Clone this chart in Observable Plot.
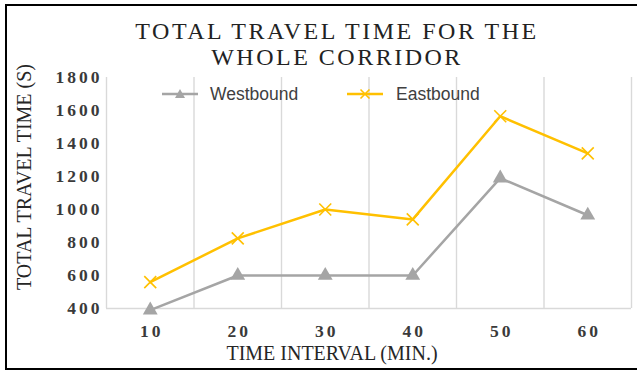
<!DOCTYPE html>
<html>
<head>
<meta charset="utf-8">
<script src="https://cdn.jsdelivr.net/npm/d3@7"></script>
<script src="https://cdn.jsdelivr.net/npm/@observablehq/plot@0.6"></script>
<style>
  html, body { margin: 0; padding: 0; background: #fff; }
  #wrap { position: relative; width: 637px; height: 373px; overflow: hidden; background: #fff; }
  #title { height: 60px; box-sizing: border-box; padding-top: 18px; padding-left: 37px;
    text-align: center; font-family: "Liberation Serif", serif; font-size: 24px; line-height: 26px;
    letter-spacing: 2.5px; color: #222; white-space: nowrap; }
  #chart svg text { letter-spacing: 3px; }
  .lab { position: absolute; font-family: "Liberation Serif", serif; font-size: 20px; color: #262626;
    white-space: nowrap; transform: translate(-50%, -50%); }
  #legend { position: absolute; left: 0; top: 0; font-family: "Liberation Sans", Arial, sans-serif;
    font-size: 17.5px; color: #404040; }
  .item { position: absolute; top: 83px; height: 22px; line-height: 22px; white-space: nowrap; }
  .item svg { position: absolute; left: 0; top: 0; }
  .item span { position: absolute; top: 0; }
  #border { position: absolute; left: 5px; top: 4px; width: 640px; height: 366px; box-sizing: border-box;
    border: 2.5px solid #000; pointer-events: none; }
</style>
</head>
<body>
<div id="wrap">
  <div id="title">TOTAL TRAVEL TIME FOR THE<br>WHOLE CORRIDOR</div>
  <div id="chart"></div>
  <div id="legend"></div>
  <div class="lab" id="xlab" style="left:332px; top:353px;">TIME INTERVAL (MIN.)</div>
  <div class="lab" id="ylab" style="left:24px; top:177px; transform: translate(-50%, -50%) rotate(-90deg);">TOTAL TRAVEL TIME (S)</div>
  <div id="border"></div>
</div>
<script>
// ---- data ----
const intervals = [10, 20, 30, 40, 50, 60];
const westbound = [390, 600, 600, 600, 1190, 965];
const eastbound = [560, 825, 1000, 940, 1565, 1340];
const yTicks = [400, 600, 800, 1000, 1200, 1400, 1600, 1800];
const seriesNames = ["Westbound", "Eastbound"];
const seriesColors = ["#a5a5a5", "#ffc000"];

// ---- derived tables ----
const west = intervals.map((t, i) => ({t, v: westbound[i]}));
const east = intervals.map((t, i) => ({t, v: eastbound[i]}));
const step = intervals[1] - intervals[0];
const boundaries = [...intervals.map(t => t - step / 2), intervals[intervals.length - 1] + step / 2];

const chart = Plot.plot({
  width: 637,
  height: 313,
  marginLeft: 106,
  marginRight: 6,
  marginTop: 17,
  marginBottom: 65,
  style: { fontFamily: "'Liberation Serif', serif", fontSize: "17.5px", fontWeight: "bold", color: "#3a3a3a", background: "transparent", overflow: "visible" },
  x: { type: "linear", domain: [boundaries[0], boundaries[boundaries.length - 1]], label: null },
  y: { domain: [yTicks[0], yTicks[yTicks.length - 1]], label: null },
  marks: [
    Plot.ruleX(boundaries, { stroke: "#d9d9d9", strokeWidth: 1.4 }),
    Plot.ruleY([yTicks[0]], { stroke: "#d9d9d9", strokeWidth: 1.4 }),
    Plot.axisX({ ticks: intervals, tickSize: 0, tickPadding: 16, tickFormat: d => String(d), label: null, dx: 1.5 }),
    Plot.axisY({ ticks: yTicks, tickSize: 0, tickPadding: 4, tickFormat: d => String(d), label: null }),
    Plot.line(west, { x: "t", y: "v", stroke: seriesColors[0], strokeWidth: 2.5 }),
    Plot.line(east, { x: "t", y: "v", stroke: seriesColors[1], strokeWidth: 2.5 }),
    Plot.dot(west, { x: "t", y: "v", symbol: "triangle", fill: seriesColors[0], r: 5.5 }),
    Plot.dot(east, { x: "t", y: "v", symbol: "times", stroke: seriesColors[1], strokeWidth: 1.6, r: 5.5 })
  ]
});
document.getElementById("chart").appendChild(chart);

// ---- legend ----
const legend = document.getElementById("legend");
const legendPos = [{line: 162, text: 210}, {line: 347, text: 396}];
seriesNames.forEach((name, i) => {
  const item = document.createElement("div");
  item.className = "item";
  item.style.left = legendPos[i].line + "px";
  const c = seriesColors[i];
  const sym = i === 0
    ? `<path d="M18,6 L23,15 L13,15 Z" fill="${c}"/>`
    : `<path d="M13.5,6.5 L22.5,15.5 M22.5,6.5 L13.5,15.5" stroke="${c}" stroke-width="1.6"/>`;
  item.innerHTML = `<svg width="38" height="22"><line x1="0" y1="11" x2="36" y2="11" stroke="${c}" stroke-width="2.5"/>${sym}</svg><span style="left:${legendPos[i].text - legendPos[i].line}px">${name}</span>`;
  legend.appendChild(item);
});
</script>
</body>
</html>
